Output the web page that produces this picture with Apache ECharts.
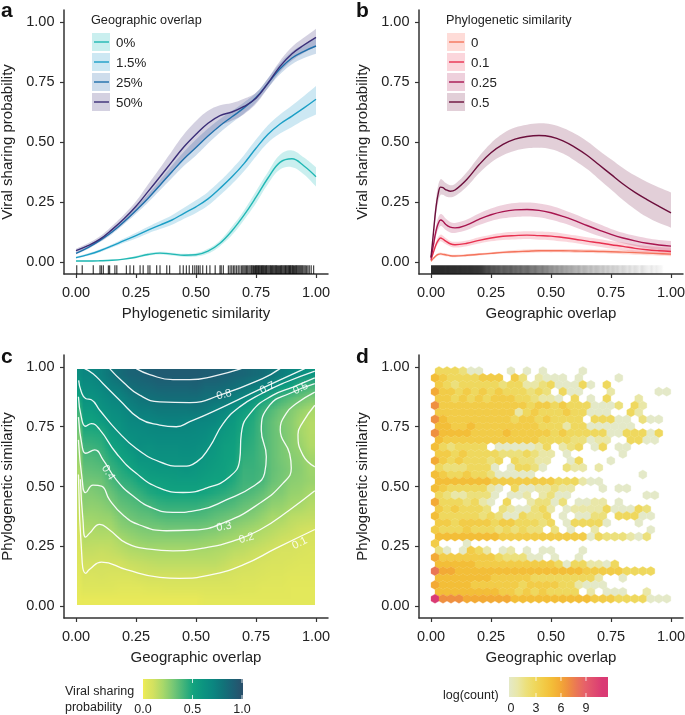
<!DOCTYPE html>
<html><head><meta charset="utf-8">
<script src="https://cdn.jsdelivr.net/npm/echarts@6/dist/echarts.min.js"></script>
<style>html,body{margin:0;padding:0;background:#fff}#c{width:685px;height:715px}</style>
</head><body><div id="c"></div>
<script>
// ---------- shared ticks
const tickValues=[0,0.25,0.5,0.75,1];
const tickLabels=['0.00','0.25','0.50','0.75','1.00'];

// ---------- panel a
const xA=[0,.05,.1,.15,.2,.25,.3,.35,.4,.45,.5,.55,.6,.65,.7,.75,.8,.85,.9,.95,1];
const aNames=['0%','1.5%','25%','50%'];
const aMean0=[.004,.004,.005,.007,.012,.02,.031,.037,.033,.028,.03,.045,.078,.13,.195,.27,.35,.415,.43,.40,.355];
const aHi0=[.006,.006,.008,.01,.015,.025,.037,.043,.039,.034,.037,.055,.09,.148,.215,.295,.375,.447,.465,.435,.395];
const aLo0=[.002,.002,.003,.005,.01,.016,.026,.031,.027,.022,.023,.035,.066,.112,.175,.245,.325,.385,.395,.365,.315];
const aMean1=[.018,.031,.047,.067,.089,.11,.133,.154,.175,.203,.23,.263,.307,.355,.41,.474,.532,.575,.608,.642,.678];
const aHi1=[.022,.036,.053,.074,.098,.122,.147,.171,.195,.226,.257,.292,.337,.388,.445,.51,.57,.615,.652,.692,.733];
const aLo1=[.014,.026,.041,.06,.08,.098,.119,.137,.155,.18,.204,.235,.278,.325,.378,.44,.497,.535,.563,.592,.615];
const aMean2=[.036,.06,.09,.125,.168,.215,.265,.32,.376,.43,.477,.525,.568,.605,.642,.685,.745,.805,.85,.878,.90];
const aHi2=[.041,.066,.097,.134,.179,.229,.282,.341,.402,.459,.51,.556,.596,.63,.665,.705,.765,.828,.876,.908,.935];
const aLo2=[.031,.054,.083,.116,.157,.201,.248,.299,.35,.401,.444,.494,.54,.58,.619,.665,.725,.782,.824,.85,.868];
const aMean3=[.047,.068,.095,.135,.18,.232,.293,.355,.418,.48,.532,.578,.61,.625,.648,.682,.745,.815,.868,.904,.936];
const aHi3=[.055,.078,.107,.15,.198,.253,.323,.392,.463,.532,.587,.63,.653,.662,.68,.705,.766,.838,.896,.935,.972];
const aLo3=[.04,.06,.085,.122,.162,.21,.265,.318,.373,.428,.479,.528,.568,.59,.616,.659,.725,.792,.84,.872,.898];
const aLine=['#22b8b4','#1c9fc6','#1f6fab','#3b2e78'];
const aBand=['rgba(34,190,190,.24)','rgba(28,150,200,.22)','rgba(31,100,170,.22)','rgba(60,46,120,.22)'];
const rugA=[.003,.026,.072,.1,.106,.114,.135,.14,.162,.17,.21,.225,.24,.267,.28,.3,.308,.336,.35,.378,.39,
.433,.447,.46,.472,.486,.495,.503,.51,.517,.528,.544,.558,.58,.6,.605,.614,.635,.642,.649,.656,.662,.669,.676,
.683,.69,.695,.7,.705,.71,.714,.72,.725,.73,.733,.737,.74,.744,.748,.75,.753,.757,.76,.763,.766,.77,.773,.776,.779,.782,
.786,.79,.793,.796,.8,.804,.808,.811,.815,.818,.822,.826,.83,.833,.836,.84,.844,.848,.852,.855,.858,.862,.866,.87,.873,.876,
.88,.884,.887,.89,.893,.896,.9,.903,.906,.91,.914,.918,.921,.925,.929,.933,.937,.941,.945,.95,.955,.96,.966,.972,.98,.99];

// ---------- panel b
const xB=[0,.01,.02,.03,.04,.05,.06,.08,.1,.15,.2,.25,.3,.35,.4,.45,.5,.55,.6,.65,.7,.75,.8,.85,.9,.95,1];
const bNames=['0','0.1','0.25','0.5'];
const bMean0=[.003,.015,.025,.032,.034,.032,.03,.026,.025,.028,.032,.036,.04,.043,.045,.047,.047,.047,.046,.045,.044,.043,.041,.039,.037,.035,.033];
const bHi0=[.005,.019,.03,.038,.04,.038,.036,.031,.03,.033,.037,.041,.046,.05,.052,.054,.054,.054,.054,.053,.052,.052,.05,.048,.046,.044,.042];
const bLo0=[.002,.011,.02,.026,.028,.026,.024,.021,.02,.023,.027,.031,.034,.036,.038,.04,.04,.04,.038,.037,.036,.034,.032,.03,.028,.026,.024];
const bMean1=[.008,.04,.07,.09,.1,.095,.088,.076,.072,.078,.09,.1,.107,.11,.112,.11,.108,.102,.095,.087,.08,.072,.065,.057,.051,.047,.044];
const bHi1=[.011,.048,.082,.104,.114,.109,.101,.088,.084,.09,.103,.114,.122,.126,.128,.127,.125,.119,.111,.103,.096,.088,.081,.073,.067,.063,.06];
const bLo1=[.005,.032,.058,.076,.086,.081,.075,.065,.06,.066,.077,.086,.092,.094,.096,.093,.091,.085,.079,.071,.064,.056,.049,.041,.035,.031,.028];
const bMean2=[.015,.07,.125,.16,.175,.17,.158,.145,.142,.155,.178,.197,.21,.217,.219,.215,.205,.19,.172,.152,.133,.115,.10,.088,.078,.071,.066];
const bHi2=[.02,.085,.145,.185,.2,.195,.182,.167,.163,.177,.202,.223,.238,.246,.248,.244,.234,.218,.199,.178,.158,.138,.122,.109,.099,.092,.088];
const bLo2=[.01,.055,.105,.135,.15,.145,.134,.123,.121,.133,.154,.171,.182,.188,.19,.186,.176,.162,.145,.126,.108,.092,.078,.067,.057,.05,.044];
const bMean3=[.02,.12,.22,.285,.312,.31,.302,.295,.30,.345,.405,.455,.49,.512,.523,.527,.522,.505,.478,.445,.405,.365,.325,.29,.26,.232,.205];
const bHi3=[.03,.14,.25,.32,.345,.34,.33,.32,.325,.375,.44,.495,.535,.56,.572,.578,.574,.558,.534,.503,.465,.428,.392,.36,.333,.31,.29];
const bLo3=[.012,.10,.19,.25,.28,.28,.274,.27,.275,.315,.37,.415,.445,.464,.474,.476,.47,.452,.422,.387,.345,.302,.258,.22,.187,.162,.143];
const bLine=['#f4745c','#e8304f','#a8154f','#6c0f3c'];
const bBand=['rgba(250,110,90,.24)','rgba(235,50,80,.2)','rgba(168,21,79,.2)','rgba(108,15,60,.2)'];
// density of the rug under panel b, one entry per 0.01 of overlap
const rugBDensity=[.9,.9,.9,.9,.9,.9,.89,.9,.89,.89,.89,.88,.89,.88,.88,.87,.88,.87,.86,.86,.85,.84,.8,.76,.78,.72,.74,.7,.72,.66,.7,.68,.66,.7,.64,.66,.62,.66,.6,.62,.64,.58,.56,.6,.54,.52,.56,.5,.52,.46,
.48,.42,.46,.4,.44,.38,.4,.36,.38,.34,.32,.36,.28,.32,.3,.26,.3,.24,.28,.26,.22,.26,.2,.24,.18,.22,.18,.2,.14,.18,.16,.12,.16,.1,.14,.12,.08,.14,.1,.08,.06,.1,.05,.08,.05,.04,.0,.0,.0,.0];

// ---------- panel c: probability per cell, columns left to right, rows bottom to top (percent)
const heatColumns=[
[2,5,8,10,13,17,18,22,26,28,31,34,38,41,46,51,56,61,65,69],
[2,5,7,10,13,16,19,22,25,28,31,35,38,42,46,51,56,61,66,70],
[2,5,8,10,12,16,20,23,26,30,32,36,40,44,47,55,61,65,69,73],
[2,5,7,10,13,16,20,24,29,33,38,42,46,51,56,61,64,69,74,79],
[2,4,7,10,15,19,25,29,34,38,43,46,51,55,60,63,67,71,77,84],
[2,4,7,12,17,22,27,32,36,40,45,50,55,60,64,68,71,76,82,88],
[2,4,9,13,18,24,29,34,38,43,49,55,60,64,66,69,74,79,85,89],
[2,5,10,14,19,25,30,35,40,47,52,57,60,63,67,70,75,81,86,91],
[2,5,10,15,19,25,30,37,43,49,53,58,62,65,68,71,77,82,88,93],
[2,6,10,15,19,25,31,38,44,50,54,58,62,65,68,72,77,83,88,93],
[2,6,10,15,19,25,31,38,44,50,55,59,62,65,68,72,77,83,88,93],
[2,6,10,15,19,25,31,38,44,50,55,60,63,66,68,71,77,83,88,93],
[2,6,10,15,19,25,31,38,44,50,55,58,62,65,67,70,78,83,89,93],
[3,6,10,15,19,24,30,37,42,49,53,56,59,62,66,69,76,81,86,92],
[3,6,10,15,18,23,29,35,40,47,51,54,56,58,61,68,71,80,86,92],
[3,6,9,13,17,21,27,33,39,45,51,52,53,54,57,60,69,78,84,90],
[3,6,8,11,15,20,25,31,37,42,46,49,51,52,54,56,61,73,82,88],
[3,5,7,10,14,18,23,29,34,39,41,42,44,46,48,49,55,69,79,87],
[3,5,7,9,12,17,21,27,32,37,41,42,43,44,45,46,49,61,76,85],
[3,4,6,8,11,15,19,24,29,34,39,40,39,39,39,39,42,52,72,83],
[3,4,5,7,9,13,17,20,25,29,33,34,34,34,34,34,37,46,67,79],
[3,4,5,7,8,11,15,20,24,28,30,31,30,30,30,29,32,40,56,75],
[3,3,4,6,8,10,13,16,21,24,26,28,27,26,26,26,28,36,51,70],
[3,3,4,5,7,8,11,15,20,23,25,26,25,23,21,20,24,32,44,65],
[3,3,4,5,6,8,10,14,17,20,23,22,21,18,17,17,20,29,40,60]];
// values along the very left edge of the field, rows bottom to top (percent)
const heatEdge=[2,3,4,5,6,8,10,12,14,16,18,20,23,26,30,36,42,50,58,65];
const heatPalette=[[0,'#f2ec55'],[.03,'#e3e85b'],[.1,'#d3e160'],[.2,'#a8d86a'],[.3,'#78c875'],[.4,'#45b57a'],[.5,'#12a37f'],[.6,'#0c9480'],[.7,'#0b8680'],[.8,'#117379'],[.9,'#1c6075'],[1,'#2a4f6a']];
const contour1=[[.01,.55],[.026,.18],[.04,.137],[.057,.154],[.106,.184],[.21,.152],[.349,.12],[.431,.116],[.556,.129],[.696,.172],[.835,.242],[.995,.32]];
const contour2=[[.018,.53],[.029,.36],[.04,.288],[.057,.305],[.099,.342],[.14,.318],[.21,.263],[.307,.238],[.404,.231],[.529,.242],[.654,.272],[.765,.318],[.89,.402],[.995,.482]];
const contour3=[[.01,.695],[.026,.527],[.04,.474],[.071,.506],[.106,.502],[.14,.444],[.196,.381],[.265,.339],[.376,.315],[.488,.318],[.626,.353],[.765,.43],[.862,.513],[.897,.576],[.89,.638],[.851,.736],[.876,.806],[.918,.847],[.995,.895]];
const contour4=[[.01,.79],[.026,.666],[.04,.639],[.078,.653],[.113,.611],[.169,.527],[.238,.46],[.321,.409],[.404,.392],[.515,.402],[.626,.444],[.737,.5],[.786,.556],[.793,.624],[.772,.736],[.807,.84],[.89,.889],[.995,.93]];
const contour5=[[.01,.875],[.022,.791],[.04,.752],[.064,.763],[.099,.738],[.169,.638],[.251,.555],[.349,.493],[.446,.475],[.543,.493],[.64,.541],[.682,.611],[.689,.722],[.731,.812],[.821,.882],[.904,.916],[.995,.954]];
const contour6=[[.011,.944],[.022,.896],[.04,.868],[.064,.863],[.099,.819],[.169,.736],[.251,.659],[.349,.603],[.44,.585],[.503,.603],[.557,.666],[.613,.763],[.682,.833],[.772,.888],[.876,.937],[.995,.983]];
const contour7=[[.036,.993],[.071,.972],[.113,.93],[.182,.861],[.265,.784],[.349,.757],[.418,.75],[.474,.771],[.571,.813],[.772,.909],[.953,.993]];
const contour8=[[.140,.993],[.196,.937],[.265,.882],[.349,.854],[.474,.851],[.6,.882],[.775,.95],[.85,.993]];
const contour9=[[.251,.993],[.307,.968],[.404,.947],[.474,.947],[.571,.961],[.689,.993]];
const contour2b=[[.995,.84],[.946,.77],[.925,.719],[.946,.63],[.995,.582]];
const contourText=['0.8','0.7','0.5','0.4','0.3','0.2','0.1'];
const contourTextX=[.617,.797,.936,.134,.617,.71,.932];
const contourTextY=[.884,.912,.910,.558,.332,.284,.263];
const contourTextAngle=[15,25,25,-58,10,16,27];
const heatBarTicks=[0,.5,1];
const heatBarLabels=['0.0','0.5','1.0'];

// ---------- panel d: log(count) per hexagon, top row first; '.' = empty, b = 11
const hexRows=[
"333200...0.0.0....0",
"543333444.42.1000.0....0",
"43233333233112300030.3",
"644343434333232.300...1.....00",
"4434343444332110.3.0.3...1",
"744444444444344343330002.31",
"4444444444134333433000..31",
"7544444444344343333.33300.200",
"5544544444444333133000000",
"75555444454444434333330033303",
"5444444444444333322011..3300",
"5323333.0000013.123.03.00",
"443433332223211.0......0",
"643433323.32211..03...0",
"32223330.03320..211.1",
"5433433200000.............0",
"555555544444444333100",
"543333310.30011211...0.00",
"32112220.001.1200.........00",
"63332310.3..12202.0011.0",
"4343332.21002 31.01111300032".replace(' ',''),
"533333232003223.0.0022.33300",
"443444434433323.033330...0",
"43334333232322.2.0..1......0",
"555555554444444444403222102",
"4...0",
"20.0431.01.0.00...0",
"64444444322200.0..0",
"55555444444444430331103",
"8665555555555555555444443333",
"555555544444333333331..0",
"6555544444434444331000",
"555555554434343333.1.000..1",
"b77766666655555555554443333000"
];
const hexPalette=[[0,'#e4e9c8'],[1,'#e9e7a8'],[2,'#ece07c'],[3,'#efd85e'],[4,'#f2cc48'],[5,'#f3be38'],[6,'#f3aa35'],[7,'#ef9040'],[8,'#ea7656'],[9,'#e6606a'],[11,'#da3a74']];
const hexBarTicks=[0,3,6,9];
const hexBarMax=11.7;

// ---------- helpers
const FONT='"Liberation Sans",Arial,sans-serif';
function hex(c){return [1,3,5].map(i=>parseInt(c.substr(i,2),16));}
function ramp(p,v){
  if(v<=p[0][0])return hex(p[0][1]);
  for(let i=1;i<p.length;i++){if(v<=p[i][0]){const t=(v-p[i-1][0])/(p[i][0]-p[i-1][0]),a=hex(p[i-1][1]),b=hex(p[i][1]);return a.map((u,k)=>Math.round(u+(b[k]-u)*t));}}
  return hex(p[p.length-1][1]);
}
function css(a){return 'rgb('+a.join(',')+')';}
function axis(kind,idx,name,gap){
  return {type:'value',gridIndex:idx,min:-0.05,max:1.05,name:name,nameLocation:'middle',nameGap:gap,
    nameTextStyle:{fontFamily:FONT,fontSize:15,color:'#222'},
    axisLine:{show:true,onZero:false,lineStyle:{color:'#333',width:1.5}},
    axisTick:{show:true,length:4,customValues:tickValues,lineStyle:{color:'#333',width:1.2}},
    axisLabel:{show:true,margin:kind==='x'?11:9.5,fontFamily:FONT,fontSize:14.5,color:'#222',customValues:tickValues,
      showMinLabel:true,showMaxLabel:true,hideOverlap:false,
      formatter:v=>tickLabels[tickValues.indexOf(v)]},
    splitLine:{show:false}};
}
const grids=[{left:64,top:10,width:264,height:264,outerBoundsMode:'none'},{left:419,top:10,width:264,height:264,outerBoundsMode:'none'},
             {left:64,top:355,width:264,height:263,outerBoundsMode:'none'},{left:419,top:355,width:264,height:263,outerBoundsMode:'none'}];
const xAxes=[axis('x',0,'Phylogenetic similarity',32),axis('x',1,'Geographic overlap',32),axis('x',2,'Geographic overlap',32),axis('x',3,'Geographic overlap',32)];
const yAxes=[0,1,2,3].map(i=>axis('y',i,i<2?'Viral sharing probability':'Phylogenetic similarity',49));

const series=[];
function band(g,xs,lo,hi,color,z){
  series.push({type:'custom',xAxisIndex:g,yAxisIndex:g,silent:true,z:z,data:[[0,0]],clip:false,
    renderItem:(p,api)=>{
      const up=xs.map((x,i)=>api.coord([x,hi[i]])),dn=xs.map((x,i)=>api.coord([x,lo[i]])).reverse();
      // corner points repeated so the ends of the band stay square
      const pts=[up[0]].concat(up,[up[up.length-1],dn[0]],dn,[dn[dn.length-1]]);
      return {type:'polygon',shape:{points:pts,smooth:0.4},style:{fill:color}};
    }});
}
function line(g,xs,ys,color,z,w,sm){
  series.push({type:'line',xAxisIndex:g,yAxisIndex:g,silent:true,z:z,symbol:'none',smooth:sm||0.4,clip:false,
    data:xs.map((x,i)=>[x,ys[i]]),lineStyle:{color:color,width:w||1.4}});
}
[[aLo0,aHi0,aMean0],[aLo1,aHi1,aMean1],[aLo2,aHi2,aMean2],[aLo3,aHi3,aMean3]].forEach((s,i)=>{
  band(0,xA,s[0],s[1],aBand[i],2);line(0,xA,s[2],aLine[i],3);});
[[bLo0,bHi0,bMean0],[bLo1,bHi1,bMean1],[bLo2,bHi2,bMean2],[bLo3,bHi3,bMean3]].forEach((s,i)=>{
  band(1,xB,s[0],s[1],bBand[i],2);line(1,xB,s[2],bLine[i],3);});

// rugs
series.push({type:'custom',xAxisIndex:0,yAxisIndex:0,silent:true,z:2,clip:false,data:rugA.map(v=>[v,-0.05]),
  renderItem:(p,api)=>{const a=api.coord([api.value(0),-0.05]),b=api.coord([api.value(0),-0.014]);
    return {type:'line',shape:{x1:a[0],y1:a[1],x2:b[0],y2:b[1]},style:{stroke:'rgba(0,0,0,.72)',lineWidth:1.25}};}});
series.push({type:'custom',xAxisIndex:1,yAxisIndex:1,silent:true,z:2,clip:false,data:[[0,-0.014,1,-0.05]],
  renderItem:(p,api)=>{const a=api.coord([api.value(0),api.value(1)]),b=api.coord([api.value(2),api.value(3)]);
    return {type:'rect',shape:{x:a[0],y:a[1],width:b[0]-a[0],height:b[1]-a[1]},
      style:{fill:new echarts.graphic.LinearGradient(0,0,1,0,rugBDensity.map((d,i)=>({offset:i/(rugBDensity.length-1),color:'rgba(20,20,20,'+d+')'})))}};}});

// heat field: a texture with one pixel per typed cell, placed through the axes
const tex=document.createElement('canvas');
const nc=heatColumns.length,nr=heatColumns[0].length;
tex.width=nc;tex.height=nr;
const tc=tex.getContext('2d'),imgd=tc.createImageData(nc,nr);
heatColumns.forEach((col,i)=>col.forEach((v,j)=>{const o=((nr-1-j)*nc+i)*4,c=ramp(heatPalette,v/100);imgd.data[o]=c[0];imgd.data[o+1]=c[1];imgd.data[o+2]=c[2];imgd.data[o+3]=255;}));
tc.putImageData(imgd,0,0);
series.push({type:'custom',xAxisIndex:2,yAxisIndex:2,silent:true,z:1,clip:false,data:[[.006,.993,.994,.004]],
  renderItem:(p,api)=>{const a=api.coord([api.value(0),api.value(1)]),b=api.coord([api.value(2),api.value(3)]);
    return {type:'image',style:{image:tex,x:a[0],y:a[1],width:b[0]-a[0],height:b[1]-a[1]}};}});
// paler strip along the left edge, fading into the field
const texE=document.createElement('canvas');texE.width=2;texE.height=nr;
const te=texE.getContext('2d'),ed=te.createImageData(2,nr);
heatEdge.forEach((v,j)=>{const c=ramp(heatPalette,v/100),o=(nr-1-j)*2*4;
  for(let k=0;k<2;k++){ed.data[o+k*4]=c[0];ed.data[o+k*4+1]=c[1];ed.data[o+k*4+2]=c[2];ed.data[o+k*4+3]=k?0:255;}});
te.putImageData(ed,0,0);
series.push({type:'custom',xAxisIndex:2,yAxisIndex:2,silent:true,z:1.5,clip:false,data:[[.006,.993,.04,.004]],
  renderItem:(p,api)=>{const a=api.coord([api.value(0),api.value(1)]),b=api.coord([api.value(2),api.value(3)]);
    return {type:'image',style:{image:texE,x:a[0],y:a[1],width:b[0]-a[0],height:b[1]-a[1]}};}});
[contour1,contour2,contour3,contour4,contour5,contour6,contour7,contour8,contour9,contour2b].forEach(c=>
  line(2,c.map(p=>p[0]),c.map(p=>p[1]),'rgba(255,255,255,.92)',3,1.3,0.5));
series.push({type:'custom',xAxisIndex:2,yAxisIndex:2,silent:true,z:4,clip:false,data:contourText.map((t,i)=>[contourTextX[i],contourTextY[i]]),
  renderItem:(p,api)=>{const a=api.coord([api.value(0),api.value(1)]),i=p.dataIndex;
    return {type:'text',x:a[0],y:a[1],rotation:contourTextAngle[i]*Math.PI/180,
      style:{text:contourText[i],x:0,y:0,fill:'rgba(255,255,255,.85)',font:'11px '+FONT,textAlign:'center',textVerticalAlign:'middle'}};}});

// hexagons
const hexData=[];
const HEX_X0=.0167,HEX_DX=.0333,HEX_Y0=.0306,HEX_DY=.02886;
hexRows.forEach((row,ri)=>{const r=hexRows.length-1-ri;
  for(let c=0;c<row.length;c++){const ch=row[c];if(ch==='.')continue;
    hexData.push([HEX_X0+(r%2?HEX_DX/2:0)+HEX_DX*c,HEX_Y0+HEX_DY*r,ch==='b'?11:+ch]);}});
series.push({type:'custom',xAxisIndex:3,yAxisIndex:3,silent:true,z:2,clip:false,data:hexData,
  renderItem:(p,api)=>{const a=api.coord([api.value(0),api.value(1)]),w=api.size([HEX_DX,0])[0]/2,h=api.size([0,HEX_DY])[1]*2/3;
    const col=css(ramp(hexPalette,api.value(2)));
    return {type:'polygon',shape:{points:[[a[0],a[1]-h],[a[0]+w,a[1]-h/2],[a[0]+w,a[1]+h/2],[a[0],a[1]+h],[a[0]-w,a[1]+h/2],[a[0]-w,a[1]-h/2]]},
      style:{fill:col,stroke:col,lineWidth:.3}};}});

// legends, colour bars, panel letters
const g=[];
function txt(t,x,y,size,opt){g.push({type:'text',x:x,y:y,silent:true,z:20,style:Object.assign({text:t,font:size+'px '+FONT,fill:'#222',textVerticalAlign:'middle',textAlign:'left'},opt||{})});}
function legend(title,x,names,lines,bands){
  txt(title,x,20.5,12.7);
  names.forEach((n,i)=>{const top=33+20*i;
    g.push({type:'rect',silent:true,z:20,shape:{x:x+1,y:top,width:18,height:18},style:{fill:bands[i]}});
    g.push({type:'line',silent:true,z:21,shape:{x1:x+3,y1:top+9,x2:x+18,y2:top+9},style:{stroke:lines[i],lineWidth:1.4}});
    txt(n,x+25,top+10,13.3);
  });
}
legend('Geographic overlap',91,aNames,aLine,aBand);
legend('Phylogenetic similarity',446,bNames,bLine,bBand);
[['a',1,11],['b',356,11],['c',1,357],['d',356,357]].forEach(l=>txt(l[0],l[1],l[2],21,{font:'bold 21px '+FONT,fill:'#111'}));
// colour bar c
g.push({type:'rect',silent:true,z:20,shape:{x:143,y:679,width:100,height:20},style:{fill:new echarts.graphic.LinearGradient(0,0,1,0,heatPalette.map(s=>({offset:s[0],color:s[1]})))}});
heatBarTicks.forEach((t,i)=>{const x=143+t*99;
  if(t>0){g.push({type:'line',silent:true,z:21,shape:{x1:x,y1:679,x2:x,y2:683},style:{stroke:'#fff',lineWidth:.8}});g.push({type:'line',silent:true,z:21,shape:{x1:x,y1:695,x2:x,y2:699},style:{stroke:'#fff',lineWidth:.8}});}
  txt(heatBarLabels[i],x,710,12.5,{textAlign:'center'});});
txt('Viral sharing',65,692,12.5);txt('probability',65,708,12.5);
// colour bar d
g.push({type:'rect',silent:true,z:20,shape:{x:509,y:677,width:99,height:20},style:{fill:new echarts.graphic.LinearGradient(0,0,1,0,hexPalette.map(s=>({offset:s[0]/hexBarMax,color:s[1]})))}});
hexBarTicks.forEach(t=>{const x=511+t*8.33;
  if(t>0){g.push({type:'line',silent:true,z:21,shape:{x1:x,y1:677,x2:x,y2:681},style:{stroke:'#fff',lineWidth:.8}});g.push({type:'line',silent:true,z:21,shape:{x1:x,y1:693,x2:x,y2:697},style:{stroke:'#fff',lineWidth:.8}});}
  txt(String(t),x,709,12.5,{textAlign:'center'});});
txt('log(count)',443,696,12.5);

const chart=echarts.init(document.getElementById('c'),null,{renderer:'canvas'});
chart.setOption({animation:false,backgroundColor:'#fff',grid:grids,xAxis:xAxes,yAxis:yAxes,series:series,graphic:{elements:g}});
</script></body></html>
